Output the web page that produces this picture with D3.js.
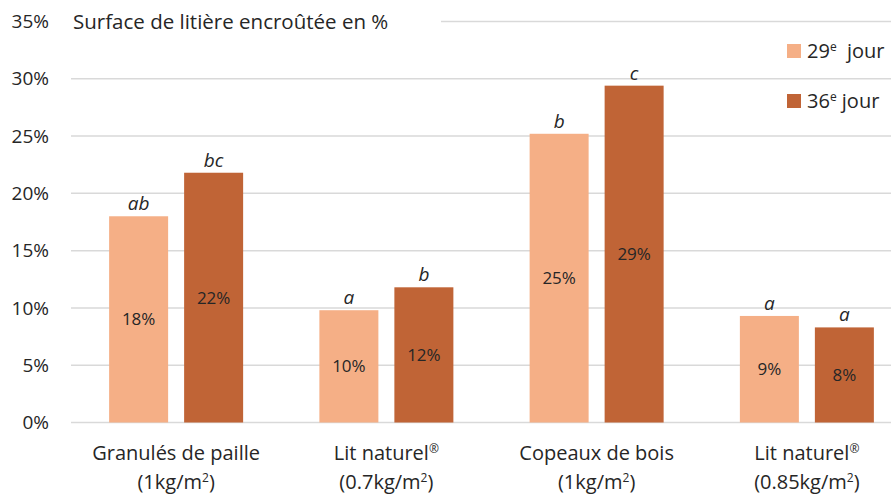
<!DOCTYPE html>
<meta charset="utf-8">
<style>
body { margin: 0; background: #fff; }
text { font-family: "Open Sans", sans-serif; fill: #262626; }
</style>
<body>
<script src="https://d3js.org/d3.v7.min.js"></script>
<script>

// data
var categories = ["Granulés de paille", "Lit naturel", "Copeaux de bois", "Lit naturel"];
var marks = ["", "®", "", "®"];
var doses = ["(1kg/m", "(0.7kg/m", "(1kg/m", "(0.85kg/m"];
var series = ["29", "36"];
var day29 = [18.0, 9.8, 25.2, 9.3];
var day36 = [21.8, 11.8, 29.4, 8.3];
var labels29 = ["18%", "10%", "25%", "9%"];
var labels36 = ["22%", "12%", "29%", "8%"];
var letters29 = ["ab", "a", "b", "a"];
var letters36 = ["bc", "b", "c", "a"];
var yTicks = [0, 5, 10, 15, 20, 25, 30, 35];
var colors = ["#F5AF86", "#C06436"];

var width = 891, height = 495;

var svg = d3.select("body").append("svg")
    .attr("width", width)
    .attr("height", height);

var x = d3.scaleBand()
    .domain(d3.range(categories.length))
    .range([71, 912]);

var y = d3.scaleLinear()
    .domain([0, 35])
    .range([422.5, 21.5]);

var barW = 59, gap = 16;

// gridlines
svg.append("g").selectAll("line")
    .data(yTicks)
  .enter().append("line")
    .attr("x1", function(d) { return d === 35 ? 441 : 71; })
    .attr("x2", width)
    .attr("y1", function(d) { return y(d); })
    .attr("y2", function(d) { return y(d); })
    .attr("stroke", "#d9d9d9")
    .attr("stroke-width", 1.5);

// y axis labels
svg.append("g").selectAll("text")
    .data(yTicks)
  .enter().append("text")
    .attr("x", 49)
    .attr("y", function(d) { return y(d); })
    .attr("dy", "0.35em")
    .attr("text-anchor", "end")
    .style("font-size", "19px")
    .text(function(d) { return d + "%"; });

// title
svg.append("text")
    .attr("x", 73)
    .attr("y", 21.5)
    .attr("dy", "0.35em")
    .style("font-size", "20.5px")
    .text("Surface de litière encroûtée en %");

var all = [day29, day36];
var vals = [labels29, labels36];
var letters = [letters29, letters36];

all.forEach(function(s, si) {
  var g = svg.append("g");
  var bx = function(i) {
    var c = x(i) + x.bandwidth() / 2;
    return si === 0 ? c - gap / 2 - barW : c + gap / 2;
  };
  g.selectAll("rect")
      .data(s)
    .enter().append("rect")
      .attr("x", function(d, i) { return bx(i); })
      .attr("y", function(d) { return y(d); })
      .attr("width", barW)
      .attr("height", function(d) { return y(0) - y(d); })
      .attr("fill", colors[si]);

  g.selectAll("text.val")
      .data(s)
    .enter().append("text")
      .attr("class", "val")
      .attr("x", function(d, i) { return bx(i) + barW / 2; })
      .attr("y", function(d) { return (y(d) + y(0)) / 2; })
      .attr("dy", "0.35em")
      .attr("text-anchor", "middle")
      .style("font-size", "17px")
      .text(function(d, i) { return vals[si][i]; });

  g.selectAll("text.letter")
      .data(s)
    .enter().append("text")
      .attr("class", "letter")
      .attr("x", function(d, i) { return bx(i) + barW / 2; })
      .attr("y", function(d) { return y(d) - 6; })
      .attr("text-anchor", "middle")
      .style("font-size", "19px")
      .style("font-style", "italic")
      .text(function(d, i) { return letters[si][i]; });
});

// category labels
var cat = svg.append("g").selectAll("g")
    .data(categories)
  .enter().append("g");

var line1 = cat.append("text")
    .attr("x", function(d, i) { return x(i) + x.bandwidth() / 2; })
    .attr("y", 460)
    .attr("text-anchor", "middle")
    .style("font-size", "20px");
line1.append("tspan").text(function(d) { return d; });
line1.append("tspan").attr("dy", -7).style("font-size", "12px").text(function(d, i) { return marks[i]; });

var line2 = cat.append("text")
    .attr("x", function(d, i) { return x(i) + x.bandwidth() / 2; })
    .attr("y", 489)
    .attr("text-anchor", "middle")
    .style("font-size", "20px");
line2.append("tspan").text(function(d, i) { return doses[i]; });
line2.append("tspan").attr("dy", -7).style("font-size", "12px").text("2");
line2.append("tspan").attr("dy", 7).text(")");

// legend
var leg = svg.append("g").selectAll("g")
    .data(series)
  .enter().append("g")
    .attr("transform", function(d, i) { return "translate(787," + (44 + i * 50) + ")"; });

leg.append("rect")
    .attr("width", 14)
    .attr("height", 14)
    .attr("fill", function(d, i) { return colors[i]; });

var lt = leg.append("text")
    .attr("x", 20)
    .attr("y", 7)
    .attr("dy", "0.35em")
    .style("font-size", "20px");
lt.append("tspan").text(function(d) { return d; });
lt.append("tspan").attr("dy", -7).style("font-size", "12px").text("e");
lt.append("tspan").attr("dy", 7).text(function(d, i) { return i === 0 ? "\u00a0 jour" : " jour"; });

</script>
</body>
